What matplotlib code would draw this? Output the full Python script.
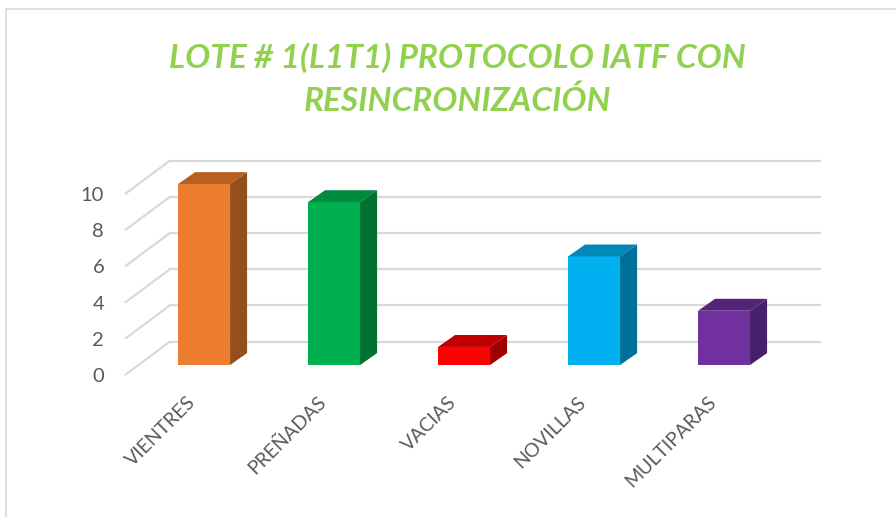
import numpy as np
import matplotlib.pyplot as plt
from matplotlib.patches import Polygon, Rectangle

categories = ['VIENTRES', 'PREÑADAS', 'VACIAS', 'NOVILLAS', 'MULTIPARAS']
values = [10, 9, 1, 6, 3]
front_colors = ['#ED7D31', '#00B050', '#FF0000', '#00B0F0', '#7030A0']
top_colors = ['#BA5F22', '#008A3E', '#C00000', '#0088B8', '#552379']
side_colors = ['#954F1E', '#007033', '#A00000', '#006F99', '#481F6A']
y_ticks = [0, 2, 4, 6, 8, 10]
title = 'LOTE # 1(L1T1) PROTOCOLO IATF CON\nRESINCRONIZACIÓN'

# fake 3d geometry (data units: x = category, y = value)
floor_front = -0.55     # front edge of floor, below bar base
wall_dx, wall_dy = 0.346, 1.85   # depth of the whole box
bar_dx, bar_dy = 0.131, 0.66     # depth of a bar
bar_w = 0.4
grid_col = '#D9D9D9'
text_col = '#595959'

W, H = 896, 517
fig = plt.figure(figsize=(W / 100, H / 100), dpi=100)
ax = fig.add_axes([125 / W, (H - 375) / H, (820 - 125) / W, (375 - 160) / H])
x_left, x_right = -0.608, 4.738
ax.set_xlim(x_left, x_right)
ax.set_ylim(floor_front, floor_front + 11.88)

# side wall diagonals + back wall lines
for v in y_ticks:
    fy = v + floor_front
    by = fy + wall_dy
    ax.plot([x_left, x_left + wall_dx], [fy, by], color=grid_col, lw=1.6,
            solid_capstyle='butt', zorder=1, clip_on=False)
    ax.plot([x_left + wall_dx, x_right], [by, by], color=grid_col, lw=1.6,
            zorder=1, clip_on=False)

# bars
for i, v in enumerate(values):
    x0, x1 = i - bar_w / 2, i + bar_w / 2
    ax.add_patch(Rectangle((x0, 0), bar_w, v, facecolor=front_colors[i],
                           edgecolor='none', zorder=3))
    ax.add_patch(Polygon([(x0, v), (x1, v), (x1 + bar_dx, v + bar_dy),
                          (x0 + bar_dx, v + bar_dy)],
                         facecolor=top_colors[i], edgecolor='none', zorder=3))
    ax.add_patch(Polygon([(x1, 0), (x1 + bar_dx, bar_dy),
                          (x1 + bar_dx, v + bar_dy), (x1, v)],
                         facecolor=side_colors[i], edgecolor='none', zorder=3))

# y tick labels on the front edge
ax.set_yticks([v + floor_front for v in y_ticks])
ax.set_yticklabels([str(v) for v in y_ticks])
ax.tick_params(axis='y', length=0, pad=15, labelsize=14.5, labelcolor=text_col)
ax.set_xticks([])
for lab in ax.get_yticklabels():
    lab.set_family('Lato')
for s in ax.spines.values():
    s.set_visible(False)

# category labels (rotated), right end just left of each bar centre
for i, name in enumerate(categories):
    ax.text(i - 0.13, -1.55, name, rotation=45, rotation_mode='anchor',
            ha='right', va='top', fontsize=14, color=text_col,
            family='Lato', clip_on=False)

fig.text(457 / W, 1 - 79 / H, title, ha='center', va='center', fontsize=24,
         color='#92D050', fontweight='bold', fontstyle='italic', family='Lato',
         linespacing=1.5)

# chart border
fig.add_artist(Rectangle((6 / W, -0.1), 1.2, (H - 9) / H + 0.1,
                         transform=fig.transFigure, fill=False,
                         edgecolor=grid_col, lw=1.2))

fig.savefig('out.png', dpi=100, facecolor='white')
